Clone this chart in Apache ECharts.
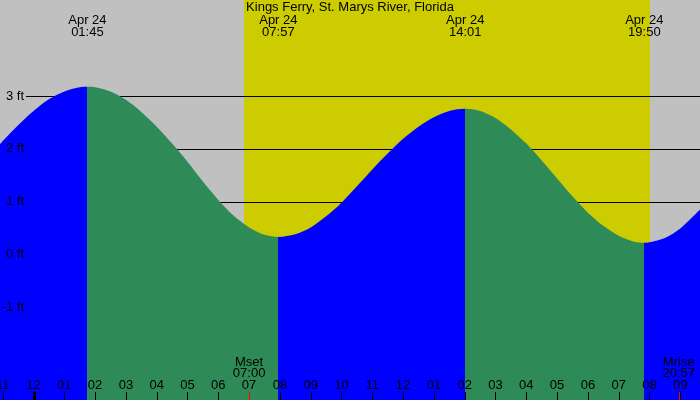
<!DOCTYPE html>
<html><head><meta charset="utf-8">
<script src="https://cdn.jsdelivr.net/npm/echarts@6/dist/echarts.min.js"></script>
<style>html,body{margin:0;padding:0;background:#c0c0c0}#c{width:700px;height:400px}</style>
</head><body><div id="c"></div>
<script>
// ---- data ----
const chartTitle = 'Kings Ferry, St. Marys River, Florida';
const tideHours = [-1.0877, -1, -0.5, 0, 0.5, 1, 1.5, 1.75, 2, 2.5, 3, 3.5, 4, 4.5, 5, 5.5, 6, 6.5, 7, 7.5, 7.95,
                   8.5, 9, 9.5, 10, 10.5, 11, 11.5, 12, 12.5, 13, 13.5, 14.0167,
                   14.5, 15, 15.5, 16, 16.5, 17, 17.5, 18, 18.5, 19, 19.5, 19.8333, 20, 20.5, 21, 21.64];
const tideFeet  = [2.09, 2.15, 2.45, 2.72, 2.94, 3.09, 3.17, 3.18, 3.17, 3.09, 2.93, 2.70, 2.42, 2.10, 1.755, 1.38, 1.03, 0.73, 0.51, 0.37, 0.33,
                   0.38, 0.51, 0.72, 0.98, 1.29, 1.61, 1.91, 2.19, 2.42, 2.60, 2.72, 2.76,
                   2.72, 2.585, 2.37, 2.10, 1.78, 1.44, 1.10, 0.79, 0.54, 0.35, 0.24, 0.22, 0.23, 0.31, 0.49, 0.85];
const extremeHours = [1.75, 7.95, 14.0167, 19.8333];
const extremeKinds = ['high', 'low', 'high', 'low'];
const extremeDates = ['Apr 24', 'Apr 24', 'Apr 24', 'Apr 24'];
const extremeTimes = ['01:45', '07:57', '14:01', '19:50'];
const hourTicks  = [-1, 0, 1, 2, 3, 4, 5, 6, 7, 8, 9, 10, 11, 12, 13, 14, 15, 16, 17, 18, 19, 20, 21];
const hourLabels = ['11','12','01','02','03','04','05','06','07','08','09','10','11','12','01','02','03','04','05','06','07','08','09'];
const midnightHours = [0];
const daylight = [6.83, 20.02];
const moonHours = [7.0, 20.95];
const moonNames = ['Mset', 'Mrise'];
const moonTimes = ['07:00', '20:57'];
const feetTicks  = [-1, 0, 1, 2, 3];
const feetLabels = ['-1 ft', '0 ft', '1 ft', '2 ft', '3 ft'];

// ---- layout / style ----
const X_MIN = -1.0877, X_MAX = 21.64;
const Y_MIN = -2.765, Y_MAX = 4.825;
const FONT = '13px "Liberation Sans", Arial, sans-serif';
const RISE = '#0000ff', FALL = '#2e8b57', DAY = '#cccc00', NIGHT = '#c0c0c0';

const pieces = [];
pieces.push({ lt: extremeHours[0], color: extremeKinds[0] === 'high' ? RISE : FALL });
extremeHours.forEach((h, i) => {
  const p = { gte: h, color: extremeKinds[i] === 'high' ? FALL : RISE };
  if (i + 1 < extremeHours.length) p.lt = extremeHours[i + 1];
  pieces.push(p);
});

const chart = echarts.init(document.getElementById('c'), null, { renderer: 'canvas' });
chart.setOption({
  animation: false,
  backgroundColor: NIGHT,
  title: {
    text: chartTitle, left: 'center', top: 1, padding: 0,
    textStyle: { fontSize: 13, fontWeight: 'normal', color: '#000', fontFamily: '"Liberation Sans", Arial, sans-serif' }
  },
  grid: { left: 0, right: 0, top: 0, bottom: 0 },
  xAxis: { type: 'value', min: X_MIN, max: X_MAX, show: false },
  yAxis: { type: 'value', min: Y_MIN, max: Y_MAX, show: false },
  visualMap: { type: 'piecewise', show: false, dimension: 0, seriesIndex: 2, pieces: pieces },
  series: [
    { // daylight band
      type: 'custom', z: 1, silent: true,
      data: [daylight],
      renderItem: (params, api) => {
        const a = api.coord([api.value(0), Y_MAX]);
        const b = api.coord([api.value(1), Y_MIN]);
        return { type: 'rect', shape: { x: Math.round(a[0]), y: a[1], width: Math.round(b[0]) - Math.round(a[0]), height: b[1] - a[1] }, style: { fill: DAY } };
      }
    },
    { // grid lines
      type: 'custom', z: 2, silent: true,
      data: feetTicks.map(v => [X_MIN, v]),
      renderItem: (params, api) => {
        const p = api.coord([api.value(0), api.value(1)]);
        const y = Math.round(p[1]) + 0.5;
        return { type: 'line', shape: { x1: p[0] + 26, y1: y, x2: api.getWidth(), y2: y }, style: { stroke: '#000', lineWidth: 1 } };
      }
    },
    { // tide
      type: 'line', z: 3, silent: true,
      data: tideHours.map((h, i) => [h, tideFeet[i]]),
      smooth: 0.3, symbol: 'none',
      lineStyle: { width: 0 },
      areaStyle: { opacity: 1, origin: 'start' }
    },
    { // y labels
      type: 'custom', z: 5, silent: true,
      data: feetTicks.map((v, i) => [X_MIN, v, i]),
      renderItem: (params, api) => {
        const p = api.coord([api.value(0), api.value(1)]);
        return { type: 'text', style: { text: feetLabels[api.value(2)], x: p[0] + 24, y: p[1], align: 'right', verticalAlign: 'middle', font: FONT, fill: '#000' } };
      }
    },
    { // extreme labels at top
      type: 'custom', z: 5, silent: true,
      data: extremeHours.map((h, i) => [h, Y_MAX, i]),
      renderItem: (params, api) => {
        const p = api.coord([api.value(0), api.value(1)]);
        const i = api.value(2);
        return { type: 'group', children: [
          { type: 'text', style: { text: extremeDates[i], x: p[0], y: p[1] + 20, align: 'center', verticalAlign: 'middle', font: FONT, fill: '#000' } },
          { type: 'text', style: { text: extremeTimes[i], x: p[0], y: p[1] + 32, align: 'center', verticalAlign: 'middle', font: FONT, fill: '#000' } }
        ] };
      }
    },
    { // hour ticks + labels
      type: 'custom', z: 5, silent: true,
      data: hourTicks.map((h, i) => [h, Y_MIN, i]),
      renderItem: (params, api) => {
        const p = api.coord([api.value(0), api.value(1)]);
        const i = api.value(2);
        const w = midnightHours.indexOf(api.value(0)) >= 0 ? 3 : 1;
        const x = Math.round(p[0]);
        return { type: 'group', children: [
          { type: 'rect', shape: { x: x - Math.floor(w / 2), y: p[1] - 8, width: w, height: 8 }, style: { fill: '#000' } },
          { type: 'text', style: { text: hourLabels[i], x: p[0], y: p[1] - 15, align: 'center', verticalAlign: 'middle', font: FONT, fill: '#000' } }
        ] };
      }
    },
    { // moon events
      type: 'custom', z: 6, silent: true,
      data: moonHours.map((h, i) => [h, Y_MIN, i]),
      renderItem: (params, api) => {
        const p = api.coord([api.value(0), api.value(1)]);
        const i = api.value(2);
        const x = Math.round(p[0]);
        return { type: 'group', children: [
          { type: 'rect', shape: { x: x, y: p[1] - 8, width: 1, height: 8 }, style: { fill: '#ff0000' } },
          { type: 'text', style: { text: moonNames[i], x: p[0], y: p[1] - 38, align: 'center', verticalAlign: 'middle', font: FONT, fill: '#000' } },
          { type: 'text', style: { text: moonTimes[i], x: p[0], y: p[1] - 26.5, align: 'center', verticalAlign: 'middle', font: FONT, fill: '#000' } }
        ] };
      }
    }
  ]
});
</script></body></html>
